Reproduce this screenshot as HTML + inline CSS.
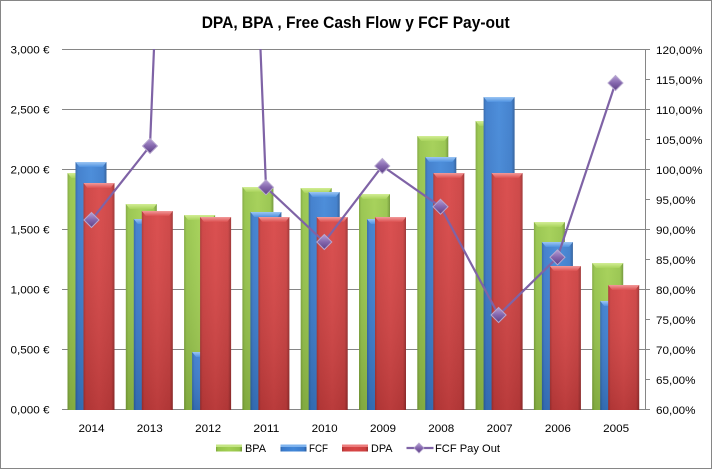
<!DOCTYPE html>
<html><head><meta charset="utf-8"><style>
html,body{margin:0;padding:0;background:#fff;}
svg{display:block;}
text{font-family:"Liberation Sans",Arial,sans-serif;fill:#000;}
</style></head><body>
<svg width="712" height="469" viewBox="0 0 712 469" xmlns="http://www.w3.org/2000/svg">
<defs>
<linearGradient id="gG" x1="0" y1="0" x2="1" y2="0">
<stop offset="0" stop-color="#7ea63a"/><stop offset="0.08" stop-color="#95c449"/><stop offset="0.5" stop-color="#a2cf52"/><stop offset="0.9" stop-color="#96c44a"/><stop offset="1" stop-color="#6e9433"/></linearGradient>
<linearGradient id="gB" x1="0" y1="0" x2="1" y2="0">
<stop offset="0" stop-color="#2e64a8"/><stop offset="0.08" stop-color="#3a7acb"/><stop offset="0.5" stop-color="#4287d8"/><stop offset="0.9" stop-color="#3a7bcb"/><stop offset="1" stop-color="#2a5a98"/></linearGradient>
<linearGradient id="gR" x1="0" y1="0" x2="1" y2="0">
<stop offset="0" stop-color="#a83232"/><stop offset="0.08" stop-color="#cc3e3e"/><stop offset="0.5" stop-color="#d84545"/><stop offset="0.9" stop-color="#cc3f3f"/><stop offset="1" stop-color="#9a2e2e"/></linearGradient>
<linearGradient id="sh" x1="0" y1="0" x2="0" y2="1">
<stop offset="0" stop-color="#fff" stop-opacity="0.06"/><stop offset="1" stop-color="#000" stop-opacity="0.14"/></linearGradient>
<linearGradient id="tG" x1="0" y1="0" x2="0" y2="1"><stop offset="0" stop-color="#d2ee95"/><stop offset="1" stop-color="#a9d35c"/></linearGradient>
<linearGradient id="tB" x1="0" y1="0" x2="0" y2="1"><stop offset="0" stop-color="#9cc6f4"/><stop offset="1" stop-color="#4f92e0"/></linearGradient>
<linearGradient id="tR" x1="0" y1="0" x2="0" y2="1"><stop offset="0" stop-color="#f29a9a"/><stop offset="1" stop-color="#dc5050"/></linearGradient>
<linearGradient id="mk" x1="0" y1="0" x2="0" y2="1"><stop offset="0" stop-color="#b59fd6"/><stop offset="0.5" stop-color="#8466ad"/><stop offset="1" stop-color="#5e4287"/></linearGradient>
<clipPath id="pc"><rect x="62" y="49" width="584" height="362"/></clipPath>
</defs>
<rect x="0.5" y="0.5" width="711" height="468" fill="#fff" stroke="#868686"/>
<text x="201.7" y="28" font-size="17" font-weight="bold" textLength="308" lengthAdjust="spacingAndGlyphs">DPA, BPA , Free Cash Flow y FCF Pay-out</text>
<g stroke="#868686" stroke-width="1">
<line x1="62" y1="49.5" x2="645" y2="49.5"/>
<line x1="62" y1="109.5" x2="645" y2="109.5"/>
<line x1="62" y1="169.5" x2="645" y2="169.5"/>
<line x1="62" y1="229.5" x2="645" y2="229.5"/>
<line x1="62" y1="289.5" x2="645" y2="289.5"/>
<line x1="62" y1="349.5" x2="645" y2="349.5"/>
<line x1="62" y1="409.5" x2="645" y2="409.5"/>
<line x1="645.5" y1="49.5" x2="645.5" y2="410"/>
<line x1="645" y1="49.5" x2="650" y2="49.5"/><line x1="645" y1="79.5" x2="650" y2="79.5"/><line x1="645" y1="109.5" x2="650" y2="109.5"/><line x1="645" y1="139.5" x2="650" y2="139.5"/><line x1="645" y1="169.5" x2="650" y2="169.5"/><line x1="645" y1="199.5" x2="650" y2="199.5"/><line x1="645" y1="229.5" x2="650" y2="229.5"/><line x1="645" y1="259.5" x2="650" y2="259.5"/><line x1="645" y1="289.5" x2="650" y2="289.5"/><line x1="645" y1="319.5" x2="650" y2="319.5"/><line x1="645" y1="349.5" x2="650" y2="349.5"/><line x1="645" y1="379.5" x2="650" y2="379.5"/><line x1="645" y1="409.5" x2="650" y2="409.5"/>
</g>
<g font-size="11" text-anchor="end">
<text x="49.5" y="53.5" textLength="39" lengthAdjust="spacingAndGlyphs">3,000 €</text>
<text x="49.5" y="113.5" textLength="39" lengthAdjust="spacingAndGlyphs">2,500 €</text>
<text x="49.5" y="173.5" textLength="39" lengthAdjust="spacingAndGlyphs">2,000 €</text>
<text x="49.5" y="233.5" textLength="39" lengthAdjust="spacingAndGlyphs">1,500 €</text>
<text x="49.5" y="293.5" textLength="39" lengthAdjust="spacingAndGlyphs">1,000 €</text>
<text x="49.5" y="353.5" textLength="39" lengthAdjust="spacingAndGlyphs">0,500 €</text>
<text x="49.5" y="413.5" textLength="39" lengthAdjust="spacingAndGlyphs">0,000 €</text>
</g>
<g font-size="11">
<text x="656" y="54" textLength="46.5" lengthAdjust="spacingAndGlyphs">120,00%</text>
<text x="656" y="84" textLength="46.5" lengthAdjust="spacingAndGlyphs">115,00%</text>
<text x="656" y="114" textLength="46.5" lengthAdjust="spacingAndGlyphs">110,00%</text>
<text x="656" y="144" textLength="46.5" lengthAdjust="spacingAndGlyphs">105,00%</text>
<text x="656" y="174" textLength="46.5" lengthAdjust="spacingAndGlyphs">100,00%</text>
<text x="656" y="204" textLength="39.5" lengthAdjust="spacingAndGlyphs">95,00%</text>
<text x="656" y="234" textLength="39.5" lengthAdjust="spacingAndGlyphs">90,00%</text>
<text x="656" y="264" textLength="39.5" lengthAdjust="spacingAndGlyphs">85,00%</text>
<text x="656" y="294" textLength="39.5" lengthAdjust="spacingAndGlyphs">80,00%</text>
<text x="656" y="324" textLength="39.5" lengthAdjust="spacingAndGlyphs">75,00%</text>
<text x="656" y="354" textLength="39.5" lengthAdjust="spacingAndGlyphs">70,00%</text>
<text x="656" y="384" textLength="39.5" lengthAdjust="spacingAndGlyphs">65,00%</text>
<text x="656" y="414" textLength="39.5" lengthAdjust="spacingAndGlyphs">60,00%</text>
</g>
<g font-size="11" text-anchor="middle">
<text x="91.5" y="432" textLength="26" lengthAdjust="spacingAndGlyphs">2014</text>
<text x="149.8" y="432" textLength="26" lengthAdjust="spacingAndGlyphs">2013</text>
<text x="208.1" y="432" textLength="26" lengthAdjust="spacingAndGlyphs">2012</text>
<text x="266.4" y="432" textLength="26" lengthAdjust="spacingAndGlyphs">2011</text>
<text x="324.7" y="432" textLength="26" lengthAdjust="spacingAndGlyphs">2010</text>
<text x="383" y="432" textLength="26" lengthAdjust="spacingAndGlyphs">2009</text>
<text x="441.3" y="432" textLength="26" lengthAdjust="spacingAndGlyphs">2008</text>
<text x="499.6" y="432" textLength="26" lengthAdjust="spacingAndGlyphs">2007</text>
<text x="557.9" y="432" textLength="26" lengthAdjust="spacingAndGlyphs">2006</text>
<text x="616.2" y="432" textLength="26" lengthAdjust="spacingAndGlyphs">2005</text>
</g>
<!-- bars: green (BPA) -->
<g>
<rect x="67.5" y="173" width="31" height="237" fill="url(#gG)"/><rect x="67.5" y="173" width="31" height="237" fill="url(#sh)"/><polygon points="67.5,173 98.5,173 94.5,178 71.5,178" fill="url(#tG)"/>
<rect x="125.8" y="204" width="31" height="206" fill="url(#gG)"/><rect x="125.8" y="204" width="31" height="206" fill="url(#sh)"/><polygon points="125.8,204 156.8,204 152.8,209 129.8,209" fill="url(#tG)"/>
<rect x="184.1" y="215" width="31" height="195" fill="url(#gG)"/><rect x="184.1" y="215" width="31" height="195" fill="url(#sh)"/><polygon points="184.1,215 215.1,215 211.1,220 188.1,220" fill="url(#tG)"/>
<rect x="242.4" y="187" width="31" height="223" fill="url(#gG)"/><rect x="242.4" y="187" width="31" height="223" fill="url(#sh)"/><polygon points="242.4,187 273.4,187 269.4,192 246.4,192" fill="url(#tG)"/>
<rect x="300.7" y="188" width="31" height="222" fill="url(#gG)"/><rect x="300.7" y="188" width="31" height="222" fill="url(#sh)"/><polygon points="300.7,188 331.7,188 327.7,193 304.7,193" fill="url(#tG)"/>
<rect x="359" y="194" width="31" height="216" fill="url(#gG)"/><rect x="359" y="194" width="31" height="216" fill="url(#sh)"/><polygon points="359,194 390,194 386,199 363,199" fill="url(#tG)"/>
<rect x="417.3" y="136" width="31" height="274" fill="url(#gG)"/><rect x="417.3" y="136" width="31" height="274" fill="url(#sh)"/><polygon points="417.3,136 448.3,136 444.3,141 421.3,141" fill="url(#tG)"/>
<rect x="475.6" y="121" width="31" height="289" fill="url(#gG)"/><rect x="475.6" y="121" width="31" height="289" fill="url(#sh)"/><polygon points="475.6,121 506.6,121 502.6,126 479.6,126" fill="url(#tG)"/>
<rect x="533.9" y="222" width="31" height="188" fill="url(#gG)"/><rect x="533.9" y="222" width="31" height="188" fill="url(#sh)"/><polygon points="533.9,222 564.9,222 560.9,227 537.9,227" fill="url(#tG)"/>
<rect x="592.2" y="263" width="31" height="147" fill="url(#gG)"/><rect x="592.2" y="263" width="31" height="147" fill="url(#sh)"/><polygon points="592.2,263 623.2,263 619.2,268 596.2,268" fill="url(#tG)"/>
</g>
<!-- bars: blue (FCF) -->
<g>
<rect x="75.5" y="162" width="31" height="248" fill="url(#gB)"/><rect x="75.5" y="162" width="31" height="248" fill="url(#sh)"/><polygon points="75.5,162 106.5,162 102.5,167 79.5,167" fill="url(#tB)"/>
<rect x="133.8" y="219" width="31" height="191" fill="url(#gB)"/><rect x="133.8" y="219" width="31" height="191" fill="url(#sh)"/><polygon points="133.8,219 164.8,219 160.8,224 137.8,224" fill="url(#tB)"/>
<rect x="192.1" y="352" width="31" height="58" fill="url(#gB)"/><rect x="192.1" y="352" width="31" height="58" fill="url(#sh)"/><polygon points="192.1,352 223.1,352 219.1,357 196.1,357" fill="url(#tB)"/>
<rect x="250.4" y="212" width="31" height="198" fill="url(#gB)"/><rect x="250.4" y="212" width="31" height="198" fill="url(#sh)"/><polygon points="250.4,212 281.4,212 277.4,217 254.4,217" fill="url(#tB)"/>
<rect x="308.7" y="192" width="31" height="218" fill="url(#gB)"/><rect x="308.7" y="192" width="31" height="218" fill="url(#sh)"/><polygon points="308.7,192 339.7,192 335.7,197 312.7,197" fill="url(#tB)"/>
<rect x="367" y="219" width="31" height="191" fill="url(#gB)"/><rect x="367" y="219" width="31" height="191" fill="url(#sh)"/><polygon points="367,219 398,219 394,224 371,224" fill="url(#tB)"/>
<rect x="425.3" y="157" width="31" height="253" fill="url(#gB)"/><rect x="425.3" y="157" width="31" height="253" fill="url(#sh)"/><polygon points="425.3,157 456.3,157 452.3,162 429.3,162" fill="url(#tB)"/>
<rect x="483.6" y="97" width="31" height="313" fill="url(#gB)"/><rect x="483.6" y="97" width="31" height="313" fill="url(#sh)"/><polygon points="483.6,97 514.6,97 510.6,102 487.6,102" fill="url(#tB)"/>
<rect x="541.9" y="242" width="31" height="168" fill="url(#gB)"/><rect x="541.9" y="242" width="31" height="168" fill="url(#sh)"/><polygon points="541.9,242 572.9,242 568.9,247 545.9,247" fill="url(#tB)"/>
<rect x="600.2" y="301" width="31" height="109" fill="url(#gB)"/><rect x="600.2" y="301" width="31" height="109" fill="url(#sh)"/><polygon points="600.2,301 631.2,301 627.2,306 604.2,306" fill="url(#tB)"/>
</g>
<!-- bars: red (DPA) -->
<g>
<rect x="83.5" y="183" width="31" height="227" fill="url(#gR)"/><rect x="83.5" y="183" width="31" height="227" fill="url(#sh)"/><polygon points="83.5,183 114.5,183 110.5,188 87.5,188" fill="url(#tR)"/>
<rect x="141.8" y="211" width="31" height="199" fill="url(#gR)"/><rect x="141.8" y="211" width="31" height="199" fill="url(#sh)"/><polygon points="141.8,211 172.8,211 168.8,216 145.8,216" fill="url(#tR)"/>
<rect x="200.1" y="217" width="31" height="193" fill="url(#gR)"/><rect x="200.1" y="217" width="31" height="193" fill="url(#sh)"/><polygon points="200.1,217 231.1,217 227.1,222 204.1,222" fill="url(#tR)"/>
<rect x="258.4" y="217" width="31" height="193" fill="url(#gR)"/><rect x="258.4" y="217" width="31" height="193" fill="url(#sh)"/><polygon points="258.4,217 289.4,217 285.4,222 262.4,222" fill="url(#tR)"/>
<rect x="316.7" y="217" width="31" height="193" fill="url(#gR)"/><rect x="316.7" y="217" width="31" height="193" fill="url(#sh)"/><polygon points="316.7,217 347.7,217 343.7,222 320.7,222" fill="url(#tR)"/>
<rect x="375" y="217" width="31" height="193" fill="url(#gR)"/><rect x="375" y="217" width="31" height="193" fill="url(#sh)"/><polygon points="375,217 406,217 402,222 379,222" fill="url(#tR)"/>
<rect x="433.3" y="173" width="31" height="237" fill="url(#gR)"/><rect x="433.3" y="173" width="31" height="237" fill="url(#sh)"/><polygon points="433.3,173 464.3,173 460.3,178 437.3,178" fill="url(#tR)"/>
<rect x="491.6" y="173" width="31" height="237" fill="url(#gR)"/><rect x="491.6" y="173" width="31" height="237" fill="url(#sh)"/><polygon points="491.6,173 522.6,173 518.6,178 495.6,178" fill="url(#tR)"/>
<rect x="549.9" y="266" width="31" height="144" fill="url(#gR)"/><rect x="549.9" y="266" width="31" height="144" fill="url(#sh)"/><polygon points="549.9,266 580.9,266 576.9,271 553.9,271" fill="url(#tR)"/>
<rect x="608.2" y="285" width="31" height="125" fill="url(#gR)"/><rect x="608.2" y="285" width="31" height="125" fill="url(#sh)"/><polygon points="608.2,285 639.2,285 635.2,290 612.2,290" fill="url(#tR)"/>
</g>
<!-- line -->
<g clip-path="url(#pc)">
<polyline points="91.5,220 150,146 207.9,-1267 266,187.3 324.3,242 382.3,166 440.5,206.7 498.6,315 557.5,257.3 615.5,83" fill="none" stroke="#7f63a6" stroke-width="2.2" stroke-linejoin="round"/>
</g>
<g fill="url(#mk)" stroke="#b7a8cf" stroke-width="1">
<polygon points="91.5,212.5 99,220 91.5,227.5 84,220"/>
<polygon points="150,138.5 157.5,146 150,153.5 142.5,146"/>
<polygon points="266,179.8 273.5,187.3 266,194.8 258.5,187.3"/>
<polygon points="324.3,234.5 331.8,242 324.3,249.5 316.8,242"/>
<polygon points="382.3,158.5 389.8,166 382.3,173.5 374.8,166"/>
<polygon points="440.5,199.2 448,206.7 440.5,214.2 433,206.7"/>
<polygon points="498.6,307.5 506.1,315 498.6,322.5 491.1,315"/>
<polygon points="557.5,249.8 565,257.3 557.5,264.8 550,257.3"/>
<polygon points="615.5,75.5 623,83 615.5,90.5 608,83"/>
</g>
<!-- legend -->
<g>
<rect x="216" y="444.5" width="26" height="7" fill="url(#gG)"/><rect x="216" y="444.5" width="26" height="2.5" fill="#c4e584"/>
<text x="245" y="452" font-size="11" textLength="21" lengthAdjust="spacingAndGlyphs">BPA</text>
<rect x="280.5" y="444.5" width="26" height="7" fill="url(#gB)"/><rect x="280.5" y="444.5" width="26" height="2.5" fill="#7eb3ee"/>
<text x="309" y="452" font-size="11" textLength="19" lengthAdjust="spacingAndGlyphs">FCF</text>
<rect x="342" y="444.5" width="26" height="7" fill="url(#gR)"/><rect x="342" y="444.5" width="26" height="2.5" fill="#ec7c7c"/>
<text x="371" y="452" font-size="11" textLength="21.5" lengthAdjust="spacingAndGlyphs">DPA</text>
<line x1="406.5" y1="448" x2="433.5" y2="448" stroke="#7f63a6" stroke-width="2.2"/>
<polygon points="419,443 424,448 419,453 414,448" fill="url(#mk)" stroke="#b7a8cf" stroke-width="0.8"/>
<text x="435" y="452" font-size="11" textLength="65" lengthAdjust="spacingAndGlyphs">FCF Pay Out</text>
</g>
</svg>
</body></html>
